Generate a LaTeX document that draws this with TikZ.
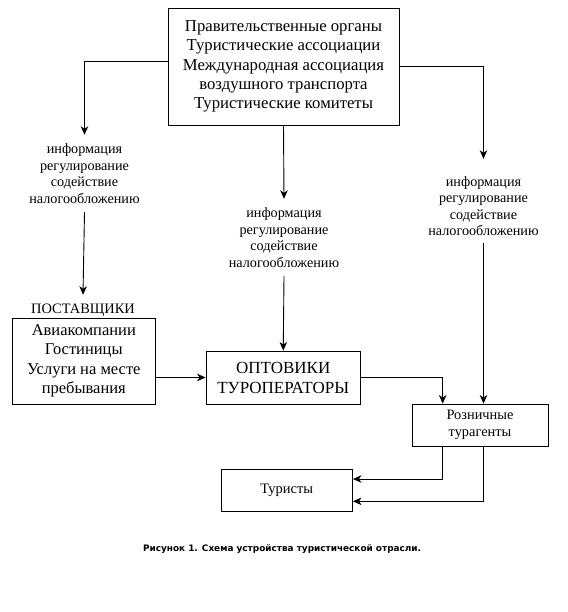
\documentclass[tikz,border=0pt]{standalone}
\usepackage{fontspec}
\setmainfont{Liberation Serif}
\newfontfamily\capfont{DejaVu Sans}
\usetikzlibrary{arrows.meta}
\tikzset{
  x=1pt, y=-1pt,
  box/.style={draw, line width=0.9pt, inner sep=0pt, align=center},
  lbl/.style={inner sep=0pt, align=center, font=\fontsize{14.2}{16.5}\selectfont},
  arr/.style={line width=0.9pt, -{Stealth[length=8.5pt,width=7.5pt,inset=2.5pt]}},
  ln/.style={line width=0.9pt}
}
\begin{document}
\begin{tikzpicture}
\useasboundingbox (0,0) rectangle (567,612);
\node[box, minimum width=231pt, minimum height=117pt, font=\fontsize{16.7}{19.2}\selectfont] (top) at (283.5,66.5)
  {Правительственные органы\\Туристические ассоциации\\Международная ассоциация\\воздушного транспорта\\Туристические комитеты};
\node[lbl, minimum height=77pt] (L) at (84.5,173.5) {информация\\регулирование\\содействие\\налогообложению};
\node[lbl, minimum height=77pt] (C) at (284,237.5) {информация\\регулирование\\содействие\\налогообложению};
\node[lbl, minimum height=74pt] (R) at (483.5,206) {информация\\регулирование\\содействие\\налогообложению};
\node[inner sep=0pt, font=\fontsize{14.4}{18}\selectfont, text height=11pt, text depth=4pt, minimum height=30pt] (post) at (83,310) {ПОСТАВЩИКИ};
\node[box, minimum width=142.4pt, minimum height=86pt, font=\fontsize{16.5}{19.5}\selectfont] (sup) at (83.8,361)
  {Авиакомпании\\Гостиницы\\Услуги на месте\\пребывания};
\node[box, minimum width=154.5pt, minimum height=53pt, font=\fontsize{17}{20}\selectfont] (opt) at (283.25,377.5)
  {ОПТОВИКИ\\ТУРОПЕРАТОРЫ};
\node[box, minimum width=136pt, minimum height=42pt, font=\fontsize{14.4}{17}\selectfont] (ret) at (480,425)
  {Розничные\\турагенты};
\node[box, minimum width=131.5pt, minimum height=42pt, font=\fontsize{14.5}{17}\selectfont] (tour) at (286.75,490)
  {Туристы};
\node[inner sep=0pt, font=\capfont\bfseries\fontsize{8.9}{10}\selectfont] (cap) at (282,549)
  {Рисунок 1. Схема устройства туристической отрасли.};
\draw[arr] ([yshift=5.5pt]top.west) -| (L.north);
\draw[arr] (L.south) -- (post.north);
\draw[arr] (top.south) -- (C.north);
\draw[arr] (C.south) -- (opt.north);
\draw[arr] (top.east) -| ([yshift=10pt]R.north);
\draw[arr] (R.south) -- (R.south |- ret.north);
\draw[arr] (sup.east |- opt.west) -- (opt.west);
\draw[arr] (opt.east) -| ([xshift=-37.3pt]ret.north);
\draw[arr] ([xshift=-37.3pt]ret.south) |- ([yshift=11pt]tour.east);
\draw[arr] (R.south |- ret.south) |- ([yshift=-11.3pt]tour.east);
\end{tikzpicture}
\end{document}
